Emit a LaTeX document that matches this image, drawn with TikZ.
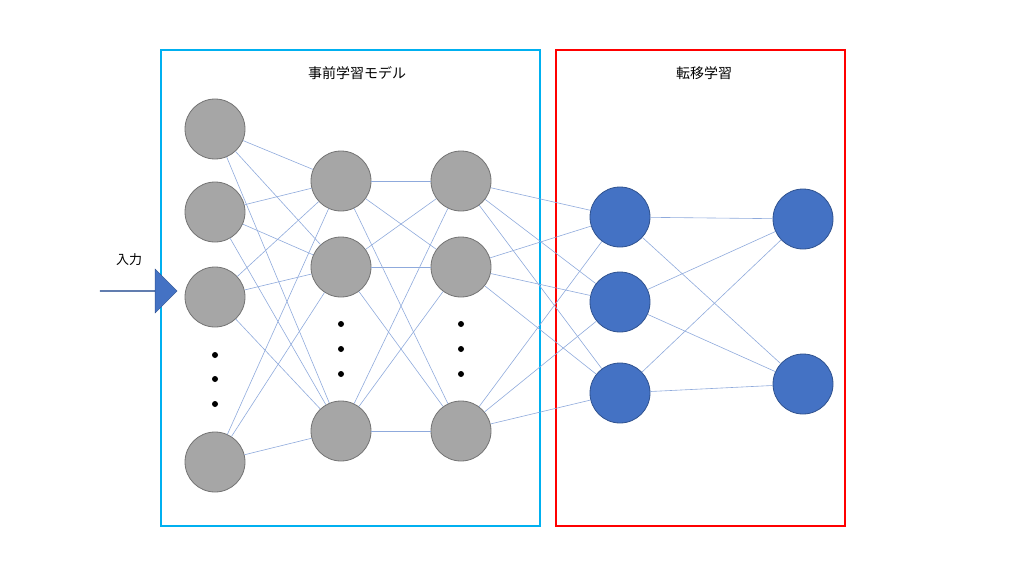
\documentclass[tikz,border=0pt]{standalone}
\usepackage{fontspec}
\newfontfamily\cjk{Noto Sans CJK JP}
\usetikzlibrary{shapes.arrows}
\begin{document}
\begin{tikzpicture}[x=1pt,y=-1pt,
 gn/.style={circle,minimum size=60pt,inner sep=0,fill=black!35,draw=black!55,line width=0.8pt},
 bn/.style={circle,minimum size=60pt,inner sep=0,fill=blue1,draw=blue2,line width=0.8pt},
 ln/.style={draw=lineblue,line width=0.6pt},
 dt/.style={circle,fill=black,inner sep=0,minimum size=6pt}]
\definecolor{blue1}{HTML}{4472C4}\definecolor{blue2}{HTML}{2F528F}\definecolor{lineblue}{HTML}{8FAADC}
\useasboundingbox (0,0) rectangle (1024,567);
\draw[draw={rgb,255:red,0;green,176;blue,240},line width=1.5pt] (161,50) rectangle (540,526);
\draw[red,line width=1.5pt] (556,50) rectangle (845,526);
\node[font=\cjk\fontsize{14}{16}\selectfont] (t1) at (357,73) {事前学習モデル};
\node[font=\cjk\fontsize{14}{16}\selectfont] (t2) at (704,73) {転移学習};
\node[font=\cjk\fontsize{13}{16}\selectfont] (in) at (129,260) {入力};
\node[single arrow,fill=blue1,draw=blue2,minimum height=77pt,minimum width=44pt,single arrow head extend=11pt,inner sep=0] (arr) at (138.5,291) {};
\foreach \i/\y in {1/129,2/212,3/297,4/462} \node[gn] (a\i) at (215,\y) {};
\foreach \i/\y in {1/181,2/267,3/431} {\node[gn] (b\i) at (341,\y) {};\node[gn] (c\i) at (461,\y) {};}
\foreach \i/\y in {1/217,2/302,3/393} \node[bn] (d\i) at (620,\y) {};
\foreach \i/\y in {1/219,2/384} \node[bn] (e\i) at (803,\y) {};
\foreach \k/\y in {1/355,2/379,3/404} \node[dt] (p\k) at (215,\y) {};
\foreach \k/\y in {1/324,2/349,3/374} {\node[dt] (q\k) at (341,\y) {};\node[dt] (r\k) at (461,\y) {};}
\begin{scope}[on background layer/.style={}]
\foreach \i in {1,...,4} \foreach \j in {1,2,3} \draw[ln] (a\i) -- (b\j);
\foreach \i in {1,2,3} \foreach \j in {1,2,3} \draw[ln] (b\i) -- (c\j);
\foreach \i in {1,2,3} \foreach \j in {1,2,3} \draw[ln] (c\i) -- (d\j);
\foreach \i in {1,2,3} \foreach \j in {1,2} \draw[ln] (d\i) -- (e\j);
\end{scope}
\end{tikzpicture}
\end{document}
